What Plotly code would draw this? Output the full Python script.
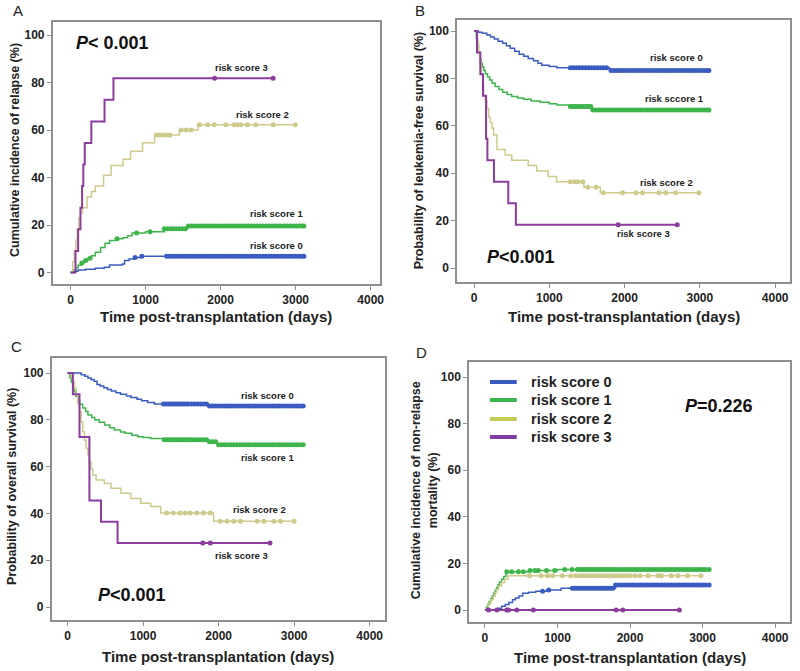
import plotly.graph_objects as go

W, H = 800, 671
FONT = "Liberation Sans, Arial, sans-serif"

NAMES = ["risk score 0", "risk score 1", "risk score 2", "risk score 3"]
COLORS = ["#3a5cc0", "#3db54b", "#cdca8c", "#8b3c9d"]
LEG_COLORS = ["#3a5cc0", "#3db54b", "#c4cc55", "#7b3fa6"]
X_TICKS = [0, 1000, 2000, 3000, 4000]
Y_TICKS = [0, 20, 40, 60, 80, 100]

# ---------------- Panel A: cumulative incidence of relapse ----------------
A_T0 = [0, 50, 100, 200, 330, 450, 520, 690, 720, 780, 850, 950]
A_V0 = [0, 0.5, 1.0, 1.4, 1.8, 2.2, 3.2, 3.6, 5.0, 5.7, 6.3, 6.8]
A_E0 = 3110
A_C0 = [860, 950, 1280, 1320, 1360, 1400, 1440, 1480, 1520, 1560, 1600, 1640, 1680, 1720,
        1760, 1800, 1840, 1880, 1920, 1960, 2000, 2040, 2080, 2120, 2160, 2200, 2240, 2280,
        2320, 2360, 2400, 2440, 2480, 2520, 2560, 2600, 2640, 2680, 2720, 2760, 2800, 2840,
        2880, 2920, 2960, 3000, 3040, 3080, 3110]

A_T1 = [0, 40, 70, 100, 140, 180, 230, 280, 330, 400, 460, 520, 600, 700, 760, 820, 1000, 1250, 1560]
A_V1 = [0, 1.0, 2.0, 3.0, 4.0, 5.0, 6.0, 7.0, 8.5, 10.5, 12.3, 13.5, 14.2, 14.6, 15.5, 16.6, 17.2, 18.4, 19.6]
A_E1 = 3110
A_C1 = [150, 200, 260, 620, 880, 1060, 1250, 1290, 1330, 1370, 1410, 1450, 1490, 1530, 1570,
        1610, 1650, 1690, 1730, 1770, 1810, 1850, 1890, 1930, 1970, 2010, 2050, 2090, 2130,
        2170, 2210, 2250, 2290, 2330, 2370, 2410, 2450, 2490, 2530, 2570, 2610, 2650, 2690,
        2730, 2770, 2810, 2850, 2890, 2930, 2970, 3010, 3050, 3090, 3110]

A_T2 = [0, 30, 50, 70, 90, 110, 130, 160, 220, 280, 330, 440, 540, 700, 800, 960, 1120, 1450, 1700]
A_V2 = [0, 4.5, 9.1, 13.6, 18.2, 22.7, 25.0, 27.3, 31.8, 34.1, 36.4, 40.9, 45.0, 47.7, 51.1, 54.6, 57.9, 60.0, 62.2]
A_E2 = 3000
A_C2 = [1145, 1189, 1233, 1278, 1322, 1476, 1542, 1608, 1718, 1828, 1916, 2070, 2181, 2225,
        2269, 2357, 2467, 2700, 2996]

A_T3 = [0, 66, 101, 132, 154, 170, 189, 277, 453, 572]
A_V3 = [0, 9.1, 18.2, 27.3, 36.4, 45.5, 54.5, 63.6, 72.7, 81.8]
A_E3 = 2700
A_C3 = [1920, 2700]

# ---------------- Panel B: leukemia-free survival ----------------
B_T0 = [0, 60, 110, 170, 220, 270, 320, 380, 430, 480, 540, 600, 660, 720, 790, 850, 900, 1000, 1100, 1800]
B_V0 = [100, 99.5, 99.0, 98.3, 97.5, 96.6, 95.7, 94.8, 93.8, 92.7, 91.5, 90.2, 89.3, 88.4, 87.4, 86.4, 85.5, 85.0, 84.5, 83.3]
B_E0 = 3120
B_C0 = [1280, 1320, 1360, 1400, 1440, 1480, 1520, 1560, 1600, 1640, 1680, 1720, 1760, 1820,
        1860, 1900, 1940, 1980, 2020, 2060, 2100, 2140, 2180, 2220, 2260, 2300, 2340, 2380,
        2420, 2460, 2500, 2540, 2580, 2620, 2660, 2700, 2740, 2780, 2820, 2860, 2900, 2940,
        2980, 3020, 3060, 3100, 3120]

B_T1 = [0, 30, 45, 60, 75, 90, 110, 130, 150, 180, 210, 240, 280, 330, 380, 440, 500, 580, 660, 760, 880, 1000, 1100, 1280, 1560]
B_V1 = [100, 97, 94, 91, 88.5, 86.5, 84.8, 83.3, 82, 80.6, 79.3, 78, 76.6, 75.3, 74.2, 73.2, 72.4, 71.7, 71.2, 70.5, 69.9, 69.3, 68.8, 68.1, 66.7]
B_E1 = 3120
B_C1 = [1280, 1310, 1340, 1370, 1400, 1430, 1460, 1490, 1520, 1550, 1580, 1620, 1660, 1700,
        1740, 1780, 1820, 1860, 1900, 1940, 1980, 2020, 2060, 2100, 2140, 2180, 2220, 2260,
        2300, 2340, 2380, 2420, 2460, 2500, 2540, 2580, 2620, 2660, 2700, 2740, 2780, 2820,
        2860, 2900, 2940, 2980, 3020, 3060, 3100, 3120]

B_T2 = [0, 45, 60, 75, 95, 115, 128, 150, 172, 195, 216, 240, 260, 304, 414, 502, 720, 832, 986, 1096, 1460, 1677]
B_V2 = [100, 95.5, 90.9, 86.4, 81.8, 77.3, 72.7, 70.5, 67.4, 63.6, 61.4, 59.0, 56.1, 50.0, 47.7, 45.5, 43.2, 40.9, 38.6, 36.4, 34.1, 31.8]
B_E2 = 3000
B_C2 = [1280, 1340, 1379, 1445, 1511, 1621, 1720, 1974, 2150, 2238, 2458, 2546, 2678, 2987]

B_T3 = [0, 40, 84, 119, 160, 178, 265, 455, 556]
B_V3 = [100, 90.9, 81.8, 72.7, 54.5, 45.5, 36.4, 27.3, 18.2]
B_E3 = 2700
B_C3 = [1915, 2700]

# ---------------- Panel C: overall survival ----------------
C_T0 = [0, 180, 230, 270, 310, 350, 390, 430, 480, 530, 580, 640, 700, 780, 840, 920, 980, 1060, 1150, 1850]
C_V0 = [100, 99.3, 98.6, 97.9, 97.2, 96.5, 95.1, 94.4, 93.7, 93.0, 92.3, 91.6, 90.9, 90.2, 89.5, 88.8, 88.1, 87.4, 86.8, 85.9]
C_E0 = 3120
C_C0 = [1270, 1300, 1330, 1360, 1390, 1420, 1450, 1480, 1510, 1540, 1570, 1600, 1640, 1680,
        1720, 1760, 1800, 1840, 1880, 1920, 1960, 2000, 2040, 2080, 2120, 2160, 2200, 2240,
        2280, 2320, 2360, 2400, 2440, 2480, 2520, 2560, 2600, 2640, 2680, 2720, 2760, 2800,
        2840, 2880, 2920, 2960, 3000, 3040, 3080, 3120]

C_T1 = [0, 30, 50, 70, 90, 110, 135, 160, 200, 240, 270, 320, 360, 420, 490, 560, 620, 700, 760, 850, 930, 1000, 1100, 1280, 1850, 1980]
C_V1 = [100, 98, 96, 94, 92, 90, 88, 86.6, 85, 83.6, 82, 81, 80, 79, 77.8, 76.6, 75.6, 74.8, 74.2, 73.4, 72.8, 72.4, 72.0, 71.5, 70.6, 69.3]
C_E1 = 3120
C_C1 = [1280, 1310, 1340, 1370, 1400, 1430, 1460, 1490, 1520, 1550, 1580, 1610, 1640, 1680,
        1720, 1760, 1800, 1840, 1880, 1920, 1960, 2000, 2040, 2080, 2120, 2160, 2200, 2240,
        2280, 2320, 2360, 2400, 2440, 2480, 2520, 2560, 2600, 2640, 2680, 2720, 2760, 2800,
        2840, 2880, 2920, 2960, 3000, 3040, 3080, 3120]

C_T2 = [0, 50, 70, 90, 114, 135, 158, 180, 202, 225, 246, 270, 289, 310, 333, 377, 487, 575, 706, 838, 969, 1101, 1233, 1934]
C_V2 = [100, 98, 96.3, 93.5, 90.6, 87, 83.5, 79, 74.9, 71.3, 67.8, 65, 62.1, 59, 56.4, 54.3, 52.8, 50.7, 48.6, 46.4, 44.3, 42.9, 40.2, 36.6]
C_E2 = 3000
C_C2 = [1311, 1400, 1489, 1556, 1622, 1711, 1800, 1889, 2022, 2111, 2200, 2289, 2511, 2600,
        2733, 2822, 3000]

C_T3 = [0, 70, 158, 289, 443, 662]
C_V3 = [100, 90.9, 72.7, 45.5, 36.4, 27.3]
C_E3 = 2680
C_C3 = [1790, 1890, 2680]

# ---------------- Panel D: non-relapse mortality ----------------
D_T0 = [0, 180, 230, 280, 330, 380, 420, 470, 520, 600, 700, 850, 1050, 1800]
D_V0 = [0, 0.8, 1.6, 2.4, 3.2, 4.4, 5.2, 6.0, 7.2, 7.6, 8.0, 8.6, 9.3, 10.7]
D_E0 = 3090
D_C0 = [795, 880, 1205, 1240, 1275, 1310, 1345, 1380, 1415, 1450, 1485, 1520, 1555, 1590,
        1625, 1660, 1695, 1730, 1765, 1800, 1840, 1880, 1920, 1960, 2000, 2040, 2080, 2120,
        2160, 2200, 2240, 2280, 2320, 2360, 2400, 2440, 2480, 2520, 2560, 2600, 2640, 2680,
        2720, 2760, 2800, 2840, 2880, 2920, 2960, 3000, 3040, 3090]

D_T1 = [0, 20, 40, 60, 80, 100, 120, 140, 160, 180, 200, 230, 260, 290, 600, 1000]
D_V1 = [0, 1.2, 2.4, 3.6, 4.8, 6.0, 7.2, 8.4, 9.6, 10.8, 12.0, 13.2, 14.4, 16.4, 17.0, 17.4]
D_E1 = 3090
D_C1 = [301, 370, 461, 530, 621, 689, 735, 849, 963, 1100, 1200, 1273, 1310, 1345, 1380,
        1415, 1450, 1485, 1520, 1555, 1590, 1625, 1660, 1695, 1730, 1765, 1800, 1840, 1880,
        1920, 1960, 2000, 2040, 2080, 2120, 2160, 2200, 2240, 2280, 2320, 2360, 2400, 2440,
        2480, 2520, 2560, 2600, 2640, 2680, 2720, 2760, 2800, 2840, 2880, 2920, 2960, 3000,
        3040, 3090]

D_T2 = [0, 45, 80, 114, 140, 159, 190, 227, 273, 318]
D_V2 = [0, 2.9, 4.4, 5.9, 7.4, 8.8, 10.3, 11.8, 13.2, 14.7]
D_E2 = 2980
D_C2 = [614, 773, 864, 932, 1068, 1182, 1250, 1300, 1350, 1400, 1450, 1500, 1550, 1600, 1650,
        1700, 1750, 1800, 1850, 1900, 1950, 2000, 2068, 2136, 2250, 2386, 2432, 2568, 2659,
        2795, 2977]

D_T3 = [0]
D_V3 = [0]
D_E3 = 2680
D_C3 = [50, 164, 300, 325, 438, 667, 1808, 1900, 2680]

PANELS = {
    "A": [(A_T0, A_V0, A_E0, A_C0), (A_T1, A_V1, A_E1, A_C1), (A_T2, A_V2, A_E2, A_C2), (A_T3, A_V3, A_E3, A_C3)],
    "B": [(B_T0, B_V0, B_E0, B_C0), (B_T1, B_V1, B_E1, B_C1), (B_T2, B_V2, B_E2, B_C2), (B_T3, B_V3, B_E3, B_C3)],
    "C": [(C_T0, C_V0, C_E0, C_C0), (C_T1, C_V1, C_E1, C_C1), (C_T2, C_V2, C_E2, C_C2), (C_T3, C_V3, C_E3, C_C3)],
    "D": [(D_T0, D_V0, D_E0, D_C0), (D_T1, D_V1, D_E1, D_C1), (D_T2, D_V2, D_E2, D_C2), (D_T3, D_V3, D_E3, D_C3)],
}

Y_TITLES = {
    "A": "Cumulative incidence of relapse (%)",
    "B": "Probability of leukemia-free survival (%)",
    "C": "Probability of overall survival (%)",
    "D": "Cumulative incidence of non-relapse<br>mortality (%)",
}
X_TITLE = "Time post-transplantation (days)"

# curve labels: (text, x, y) in data units
CURVE_LABELS = {
    "A": [("risk score 3", 2284, 86.5), ("risk score 2", 2561, 66.5), ("risk score 1", 2746, 25.0), ("risk score 0", 2746, 11.5)],
    "B": [("risk score 0", 2693, 88.9), ("risk sccore 1", 2667, 71.6), ("risk score 2", 2561, 36.0), ("risk score 3", 2257, 14.7)],
    "C": [("risk score 0", 2645, 90.6), ("risk score 1", 2658, 63.8), ("risk score 2", 2539, 41.5), ("risk score 3", 2303, 21.8)],
    "D": [],
}
P_TEXTS = {
    "A": ("<i>P</i>< 0.001", 50, 96.5),
    "B": ("<i>P</i><0.001", 145, 4.5),
    "C": ("<i>P</i><0.001", 380, 5.3),
    "D": ("<i>P</i>=0.226", 2725, 87.5),
}

# ---------------- geometry (pixels) ----------------
GEOM = {
    "A": dict(l=53, r=382, t=22, b=284, x0=71, x4k=373, y100=35, y0=272.5, letter=(18, 10), ytx=15, yty=150, xty=317),
    "B": dict(l=460, r=795, t=20, b=282, x0=477, x4k=780, y100=31, y0=268, letter=(423, 10), ytx=422, yty=150, xty=317),
    "C": dict(l=52, r=387, t=358, b=620, x0=68, x4k=372, y100=373, y0=607, letter=(17, 346), ytx=12, yty=486, xty=656),
    "D": dict(l=472, r=795, t=362, b=622, x0=488, x4k=780, y100=377, y0=610, letter=(424, 352), ytx=427, yty=490, xty=657),
}


def step_at(times, values, t):
    v = values[0]
    for ti, vi in zip(times, values):
        if ti <= t:
            v = vi
    return v


def paper_ann(text, px, py, size, angle=0, xanchor="center"):
    return dict(text=text, x=px / W, y=1 - py / H, xref="paper", yref="paper",
                xanchor=xanchor, yanchor="middle", showarrow=False, textangle=angle,
                font=dict(family=FONT, size=size, color="#222222"))


fig = go.Figure()
annotations = []
shapes = []
layout_axes = {}

for i, key in enumerate(["A", "B", "C", "D"]):
    g = GEOM[key]
    sx = "" if i == 0 else str(i + 1)
    xa, ya = "x" + sx, "y" + sx
    pxu = (g["x4k"] - g["x0"]) / 4000.0
    pyu = (g["y0"] - g["y100"]) / 100.0
    xr = [(g["l"] - g["x0"]) / pxu, (g["r"] - g["x0"]) / pxu]
    yr = [(g["y0"] - g["b"]) / pyu, (g["y0"] - g["t"]) / pyu]
    common = dict(showgrid=False, zeroline=False, showline=True, mirror=True,
                  linecolor="#8f8f8f", linewidth=1.5, ticks="outside", ticklen=4,
                  tickcolor="#8f8f8f", tickwidth=1,
                  tickfont=dict(family=FONT, size=12, color="#222222", weight="bold"))
    layout_axes["xaxis" + sx] = dict(common, domain=[g["l"] / W, g["r"] / W], range=xr,
                                     tickvals=X_TICKS, anchor=ya)
    layout_axes["yaxis" + sx] = dict(common, domain=[1 - g["b"] / H, 1 - g["t"] / H], range=yr,
                                     tickvals=Y_TICKS, anchor=xa)

    for k, (ts, vs, end, cens) in enumerate(PANELS[key]):
        lw = 2.0 if k == 3 else 1.5
        fig.add_trace(go.Scatter(x=ts + [end], y=vs + [vs[-1]], mode="lines",
                                 line=dict(color=COLORS[k], width=lw, shape="hv"),
                                 xaxis=xa, yaxis=ya, showlegend=False, name=NAMES[k]))
        fig.add_trace(go.Scatter(x=cens, y=[step_at(ts, vs, c) for c in cens], mode="markers",
                                 marker=dict(color=COLORS[k], size=5, symbol="circle",
                                             line=dict(width=0)),
                                 xaxis=xa, yaxis=ya, showlegend=False, name=NAMES[k]))

    for text, tx, ty in CURVE_LABELS[key]:
        annotations.append(dict(text="<b>" + text + "</b>", x=tx, y=ty, xref=xa, yref=ya,
                                xanchor="center", yanchor="middle",
                                showarrow=False, font=dict(family=FONT, size=9.5, color="#222222")))
    ptxt, ptx, pty = P_TEXTS[key]
    annotations.append(dict(text="<b>" + ptxt + "</b>", x=ptx, y=pty, xref=xa, yref=ya,
                            xanchor="left", yanchor="middle", showarrow=False,
                            font=dict(family=FONT, size=18, color="#111111")))
    annotations.append(paper_ann(key, g["letter"][0], g["letter"][1], 15))
    annotations.append(paper_ann("<b>" + Y_TITLES[key] + "</b>", g["ytx"], g["yty"], 12.5, angle=-90))
    annotations.append(paper_ann("<b>" + X_TITLE + "</b>", (g["l"] + g["r"]) / 2, g["xty"], 15))

# legend in panel D (drawn manually)
LEG_Y = [382, 400, 419, 437]
for k in range(4):
    shapes.append(dict(type="line", xref="paper", yref="paper", x0=493 / W, x1=520 / W,
                       y0=1 - LEG_Y[k] / H, y1=1 - LEG_Y[k] / H,
                       line=dict(color=LEG_COLORS[k], width=4)))
    annotations.append(paper_ann("<b>" + NAMES[k] + "</b>", 532, LEG_Y[k], 14.5, xanchor="left"))

fig.update_layout(width=W, height=H, margin=dict(l=0, r=0, t=0, b=0),
                  paper_bgcolor="white", plot_bgcolor="white", showlegend=False,
                  annotations=annotations, shapes=shapes, **layout_axes)

fig.write_html("out.html", config={"displayModeBar": False},
               post_script="document.body.style.margin='0px';")
